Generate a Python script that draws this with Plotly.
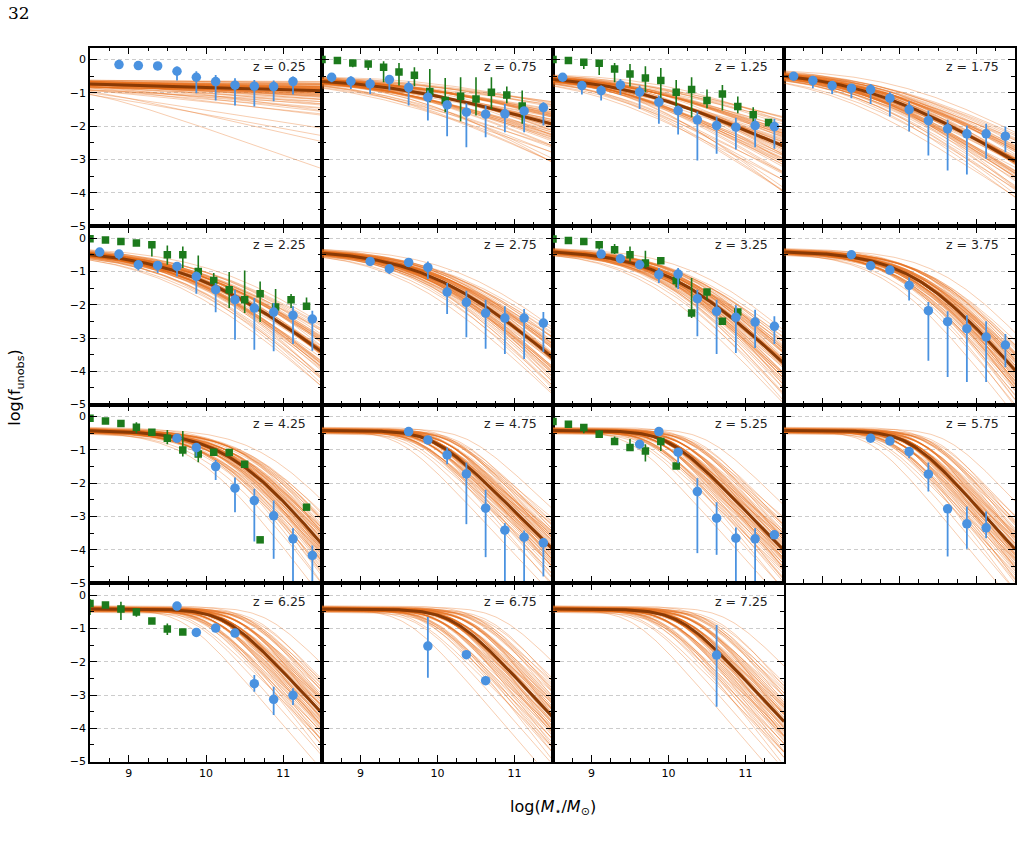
import numpy as np
import plotly.graph_objects as go
from statistics import NormalDist

W, H = 1022, 843

Z_LABELS = ["0.25", "0.75", "1.25", "1.75", "2.25", "2.75", "3.25", "3.75",
            "4.25", "4.75", "5.25", "5.75", "6.25", "6.75", "7.25"]

# median model: log f = P - (B/K) log10(1 + 10^(K (M - MC)))
P = [-0.693, -0.554, -0.49, -0.335, -0.326, -0.34, -0.35, -0.39,
     -0.41, -0.42, -0.42, -0.42, -0.42, -0.42, -0.42]
B = [0.07, 0.65, 1.0, 1.4, 1.9, 2.1, 2.3, 2.8, 2.9, 2.3, 2.4, 2.6, 2.5, 2.5, 2.5]
K = [1.0, 0.65, 0.75, 0.65, 0.6, 0.7, 0.8, 0.95, 1.0, 2.0, 2.0, 2.0, 2.0, 2.0, 2.0]
MC = [8.0, 9.385, 9.4, 9.6, 9.95, 10.0, 10.05, 10.25, 10.35, 9.95, 10.0, 10.13, 10.25, 10.2, 10.15]
# posterior spread of the sampled curves
SIG_P = [0.06, 0.05, 0.05, 0.05, 0.05, 0.04, 0.04, 0.04, 0.04, 0.04, 0.04, 0.04, 0.04, 0.04, 0.04]
SIG_B = [1.0, 0.3, 0.25, 0.15, 0.13, 0.12, 0.12, 0.1, 0.1, 0.1, 0.1, 0.1, 0.1, 0.1, 0.1]
SIG_M = [0.3, 0.25, 0.2, 0.2, 0.15, 0.15, 0.15, 0.15, 0.18, 0.18, 0.2, 0.2, 0.22, 0.25, 0.25]

# blue circles: mass, value, upper end of error bar, lower end
BLUE_M = [
    [8.875, 9.125, 9.375, 9.625, 9.875, 10.125, 10.375, 10.625, 10.875, 11.125],
    [8.625, 8.875, 9.125, 9.375, 9.625, 9.875, 10.125, 10.375, 10.625, 10.875, 11.125, 11.375],
    [8.625, 8.875, 9.125, 9.375, 9.625, 9.875, 10.125, 10.375, 10.625, 10.875, 11.125, 11.375],
    [8.625, 8.875, 9.125, 9.375, 9.625, 9.875, 10.125, 10.375, 10.625, 10.875, 11.125, 11.375],
    [8.625, 8.875, 9.125, 9.375, 9.625, 9.875, 10.125, 10.375, 10.625, 10.875, 11.125, 11.375],
    [9.125, 9.375, 9.625, 9.875, 10.125, 10.375, 10.625, 10.875, 11.125, 11.375],
    [9.125, 9.375, 9.625, 9.875, 10.125, 10.375, 10.625, 10.875, 11.125, 11.375],
    [9.375, 9.625, 9.875, 10.125, 10.375, 10.625, 10.875, 11.125, 11.375],
    [9.625, 9.875, 10.125, 10.375, 10.625, 10.875, 11.125, 11.375],
    [9.625, 9.875, 10.125, 10.375, 10.625, 10.875, 11.125, 11.375],
    [9.625, 9.875, 10.125, 10.375, 10.625, 10.875, 11.125, 11.375],
    [9.625, 9.875, 10.125, 10.375, 10.625, 10.875, 11.125],
    [9.625, 9.875, 10.125, 10.375, 10.625, 10.875, 11.125],
    [9.875, 10.375, 10.625],
    [10.625],
]
BLUE_V = [
    [-0.15, -0.18, -0.19, -0.35, -0.53, -0.66, -0.77, -0.80, -0.81, -0.66],
    [-0.53, -0.65, -0.73, -0.60, -0.84, -1.13, -1.36, -1.58, -1.64, -1.63, -1.54, -1.44],
    [-0.53, -0.78, -0.93, -0.76, -0.98, -1.28, -1.53, -1.81, -1.98, -2.03, -1.98, -2.01],
    [-0.50, -0.63, -0.78, -0.86, -0.90, -1.16, -1.50, -1.83, -2.08, -2.23, -2.23, -2.30],
    [-0.42, -0.48, -0.80, -0.82, -0.85, -1.15, -1.55, -1.85, -2.10, -2.22, -2.32, -2.43],
    [-0.70, -0.92, -0.73, -0.88, -1.62, -1.93, -2.25, -2.40, -2.40, -2.55],
    [-0.48, -0.62, -0.80, -1.10, -1.08, -1.82, -2.20, -2.38, -2.52, -2.65],
    [-0.50, -0.83, -0.96, -1.42, -2.18, -2.51, -2.72, -2.97, -3.21],
    [-0.65, -0.93, -1.50, -2.15, -2.52, -2.98, -3.67, -4.17],
    [-0.45, -0.70, -1.15, -1.72, -2.75, -3.41, -3.62, -3.79],
    [-0.83, -0.45, -1.07, -2.25, -3.05, -3.65, -3.67, -3.55],
    [-0.65, -0.73, -1.05, -1.73, -2.77, -3.22, -3.34],
    [-0.33, -1.12, -0.99, -1.14, -2.66, -3.13, -3.01],
    [-1.53, -1.79, -2.57],
    [-1.80],
]
BLUE_HI = [
    [-0.15, -0.18, -0.19, -0.21, -0.35, -0.46, -0.56, -0.61, -0.63, -0.51],
    [-0.43, -0.50, -0.55, -0.48, -0.65, -0.93, -1.23, -1.31, -1.38, -1.33, -1.43, -1.28],
    [-0.43, -0.66, -0.78, -0.58, -0.78, -1.08, -1.38, -1.56, -1.71, -1.75, -1.78, -1.78],
    [-0.45, -0.50, -0.68, -0.73, -0.73, -0.98, -1.25, -1.53, -1.81, -1.98, -1.93, -2.01],
    [-0.38, -0.38, -0.70, -0.70, -0.73, -1.00, -1.35, -1.55, -1.80, -1.95, -2.05, -2.18],
    [-0.62, -0.80, -0.68, -0.70, -1.35, -1.58, -1.85, -2.05, -2.13, -2.22],
    [-0.40, -0.55, -0.72, -0.90, -0.90, -1.55, -1.85, -2.02, -2.15, -2.35],
    [-0.45, -0.78, -0.90, -1.18, -1.92, -2.20, -2.32, -2.50, -2.88],
    [-0.60, -0.83, -1.30, -1.83, -2.17, -2.52, -3.35, -3.87],
    [-0.40, -0.65, -0.93, -1.38, -2.20, -3.20, -3.42, -3.70],
    [-0.78, -0.40, -0.95, -1.85, -2.57, -3.33, -3.35, -3.43],
    [-0.60, -0.68, -0.95, -1.38, -2.67, -2.70, -2.85],
    [-0.25, -1.05, -0.92, -1.08, -2.40, -2.75, -2.80],
    [-0.66, -1.72, -2.45],
    [-0.90],
]
BLUE_LO = [
    [-0.15, -0.18, -0.19, -0.63, -1.01, -1.23, -1.38, -1.41, -1.25, -1.05],
    [-0.68, -0.88, -1.03, -0.93, -1.38, -1.83, -2.30, -2.63, -2.33, -2.18, -2.18, -1.98],
    [-0.65, -1.05, -1.23, -1.06, -1.48, -1.93, -2.25, -3.03, -2.83, -2.70, -2.63, -2.68],
    [-0.55, -0.86, -1.03, -1.16, -1.33, -1.71, -2.16, -2.88, -3.33, -3.45, -2.98, -2.78],
    [-0.48, -0.65, -0.97, -1.05, -1.15, -1.67, -2.23, -3.05, -3.35, -3.40, -3.18, -3.38],
    [-0.78, -1.08, -0.78, -1.23, -2.28, -2.98, -3.32, -3.48, -3.63, -3.42],
    [-0.55, -0.70, -0.88, -1.35, -1.53, -2.95, -3.48, -3.45, -3.30, -3.18],
    [-0.55, -0.88, -1.02, -1.87, -3.68, -4.17, -4.32, -4.32, -3.88],
    [-0.70, -1.20, -1.90, -2.87, -3.75, -4.27, -5.10, -5.10],
    [-0.50, -0.75, -1.43, -3.23, -4.22, -5.10, -5.10, -4.80],
    [-0.88, -0.50, -1.40, -4.10, -4.15, -5.10, -5.20, -3.67],
    [-0.70, -0.78, -1.25, -2.25, -4.20, -3.97, -3.65],
    [-0.40, -1.20, -1.07, -1.22, -2.90, -3.60, -3.30],
    [-2.48, -1.86, -2.70],
    [-3.35],
]

# green squares (panel index -> data)
GREEN_PANEL = [1, 2, 4, 6, 8, 10, 12]
GREEN_M = [
    [8.5, 8.7, 8.9, 9.1, 9.3, 9.5, 9.7, 9.9, 10.1, 10.3, 10.5, 10.7, 10.9, 11.1],
    [8.5, 8.7, 8.9, 9.1, 9.3, 9.5, 9.7, 9.9, 10.1, 10.3, 10.5, 10.7, 10.9, 11.1, 11.3],
    [8.5, 8.7, 8.9, 9.1, 9.3, 9.5, 9.7, 9.9, 10.1, 10.3, 10.5, 10.7, 10.9, 11.1, 11.3],
    [8.5, 8.7, 8.9, 9.1, 9.3, 9.5, 9.7, 9.9, 10.1, 10.3, 10.5, 10.7, 10.9],
    [8.5, 8.7, 8.9, 9.1, 9.3, 9.5, 9.7, 9.9, 10.1, 10.3, 10.5, 10.7, 11.3],
    [8.5, 8.7, 8.9, 9.1, 9.3, 9.5, 9.7, 9.9, 10.1],
    [8.5, 8.7, 8.9, 9.1, 9.3, 9.5, 9.7],
]
GREEN_V = [
    [0.0, -0.03, -0.10, -0.13, -0.23, -0.37, -0.47, -0.96, -1.23, -1.10, -1.18, -0.98, -1.06, -1.39],
    [0.0, -0.03, -0.08, -0.11, -0.28, -0.43, -0.55, -0.63, -0.98, -0.90, -1.23, -1.03, -1.41, -1.66, -1.89],
    [-0.02, -0.06, -0.10, -0.15, -0.20, -0.50, -0.50, -1.00, -1.27, -1.55, -1.85, -1.67, -2.07, -1.85, -2.05],
    [-0.03, -0.07, -0.10, -0.20, -0.35, -0.50, -0.75, -0.68, -1.27, -2.25, -1.62, -2.50, -2.22],
    [-0.05, -0.13, -0.21, -0.32, -0.47, -0.65, -1.00, -1.12, -1.07, -1.08, -1.43, -3.70, -2.72],
    [-0.15, -0.23, -0.33, -0.53, -0.75, -0.93, -1.03, -0.75, -1.48],
    [-0.25, -0.30, -0.42, -0.51, -0.78, -1.02, -1.11],
]
GREEN_HI = [
    [0.0, -0.03, -0.03, -0.08, -0.05, -0.10, -0.23, -0.28, -0.55, -0.53, -0.53, -0.53, -0.81, -0.93],
    [0.0, -0.03, 0.0, -0.03, -0.10, -0.13, -0.20, -0.25, -0.61, -0.53, -0.90, -0.76, -1.11, -1.43, -1.81],
    [-0.02, -0.06, -0.03, -0.08, -0.12, -0.22, -0.25, -0.52, -1.05, -1.02, -0.97, -1.30, -1.53, -1.68, -1.78],
    [-0.03, -0.07, -0.03, -0.12, -0.18, -0.25, -0.38, -0.60, -1.15, -1.20, -1.55, -2.45, -2.15],
    [-0.05, -0.13, -0.21, -0.17, -0.40, -0.40, -0.43, -0.93, -1.07, -1.08, -1.43, -3.70, -2.72],
    [-0.15, -0.17, -0.23, -0.40, -0.60, -0.67, -0.83, -0.63, -1.48],
    [-0.12, -0.30, -0.20, -0.40, -0.78, -0.85, -1.11],
]
GREEN_LO = [
    [0.0, -0.03, -0.23, -0.31, -0.68, -0.78, -0.80, -1.28, -1.58, -1.85, -1.68, -1.48, -1.31, -1.93],
    [0.0, -0.03, -0.28, -0.46, -0.68, -0.81, -0.98, -1.28, -1.58, -1.73, -1.46, -1.53, -1.61, -2.03, -2.01],
    [-0.02, -0.06, -0.20, -0.22, -0.55, -0.80, -0.90, -1.25, -1.45, -2.10, -2.25, -2.52, -2.25, -2.10, -2.10],
    [-0.03, -0.07, -0.20, -0.35, -0.48, -0.70, -0.90, -0.75, -1.48, -2.40, -1.85, -2.55, -2.28],
    [-0.05, -0.13, -0.21, -0.50, -0.57, -0.83, -1.20, -1.37, -1.07, -1.08, -1.43, -3.70, -2.72],
    [-0.15, -0.30, -0.50, -0.63, -0.85, -0.97, -1.35, -1.03, -1.48],
    [-0.60, -0.30, -0.75, -0.65, -0.78, -1.20, -1.11],
]

X_RANGE = [8.5, 11.5]
Y_RANGE = [-5.0, 0.36]
COL_X = [90, 322, 553, 784, 1015]
ROW_Y = [48, 228, 408, 588, 768]

SAMPLE_COLOR = "rgba(232,108,22,0.38)"
MEDIAN_COLOR = "#8a3a05"
BLUE = "#4a92e0"
GREEN = "#1c7a1c"
FONT = "DejaVu Sans"

mgrid = np.linspace(X_RANGE[0], X_RANGE[1], 121)


def model(m, p, b, k, mc):
    return p - (b / k) * np.log10(1.0 + 10.0 ** (k * (m - mc)))


N_SAMP = 70
nd = NormalDist()
qv = [nd.inv_cdf((j + 0.5) / N_SAMP) for j in range(N_SAMP)]

fig = go.Figure()
layout = {}
annotations = []

for i, zl in enumerate(Z_LABELS):
    r, c = divmod(i, 4)
    n = i + 1
    xa = "x" if n == 1 else f"x{n}"
    ya = "y" if n == 1 else f"y{n}"
    xk = "xaxis" if n == 1 else f"xaxis{n}"
    yk = "yaxis" if n == 1 else f"yaxis{n}"

    for s in range(N_SAMP):
        qp = qv[s]
        qb = qv[(9 * s + 4) % N_SAMP]
        qm = qv[(13 * s + 7) % N_SAMP]
        yv = model(mgrid, P[i] + SIG_P[i] * qp, B[i] * np.exp(SIG_B[i] * qb), K[i], MC[i] + SIG_M[i] * qm)
        fig.add_trace(go.Scatter(x=mgrid, y=yv, mode="lines", xaxis=xa, yaxis=ya,
                                 line=dict(color=SAMPLE_COLOR, width=0.9),
                                 hoverinfo="skip", showlegend=False))
    fig.add_trace(go.Scatter(x=mgrid, y=model(mgrid, P[i], B[i], K[i], MC[i]), mode="lines",
                             xaxis=xa, yaxis=ya, line=dict(color=MEDIAN_COLOR, width=3),
                             hoverinfo="skip", showlegend=False))

    if i in GREEN_PANEL:
        g = GREEN_PANEL.index(i)
        gv = np.array(GREEN_V[g])
        fig.add_trace(go.Scatter(
            x=GREEN_M[g], y=gv, mode="markers", xaxis=xa, yaxis=ya,
            marker=dict(symbol="square", size=7.5, color=GREEN),
            error_y=dict(type="data", symmetric=False,
                         array=np.array(GREEN_HI[g]) - gv, arrayminus=gv - np.array(GREEN_LO[g]),
                         color=GREEN, thickness=1.6, width=0),
            showlegend=False))

    bv = np.array(BLUE_V[i])
    fig.add_trace(go.Scatter(
        x=BLUE_M[i], y=bv, mode="markers", xaxis=xa, yaxis=ya,
        marker=dict(symbol="circle", size=9.5, color=BLUE),
        error_y=dict(type="data", symmetric=False,
                     array=np.array(BLUE_HI[i]) - bv, arrayminus=bv - np.array(BLUE_LO[i]),
                     color=BLUE, thickness=1.8, width=0),
        showlegend=False))

    layout[xk] = dict(
        domain=[COL_X[c] / W, COL_X[c + 1] / W], anchor=ya, range=X_RANGE,
        showline=True, linecolor="black", linewidth=1.6, mirror="allticks",
        ticks="inside", ticklen=7, tickwidth=1.4, tickcolor="black",
        tickmode="linear", tick0=9, dtick=1,
        minor=dict(ticks="inside", ticklen=4, tickwidth=1.1, tickcolor="black",
                   dtick=0.25, tick0=8.5, showgrid=False),
        showgrid=False, zeroline=False, showticklabels=(r == 3),
        tickfont=dict(family=FONT, size=11, color="black"),
    )
    layout[yk] = dict(
        domain=[1 - ROW_Y[r + 1] / H, 1 - ROW_Y[r] / H], anchor=xa, range=Y_RANGE,
        showline=True, linecolor="black", linewidth=1.6, mirror="allticks",
        ticks="inside", ticklen=7, tickwidth=1.4, tickcolor="black",
        tickmode="linear", tick0=0, dtick=1,
        minor=dict(ticks="inside", ticklen=4, tickwidth=1.1, tickcolor="black",
                   dtick=0.5, tick0=0, showgrid=False),
        showgrid=True, gridcolor="#cccccc", griddash="4px,3px", gridwidth=0.8,
        zeroline=False, showticklabels=(c == 0),
        tickfont=dict(family=FONT, size=11, color="black"),
    )
    annotations.append(dict(
        text=f"z = {zl}", xref=f"{xa} domain", yref=f"{ya} domain",
        x=0.94, y=0.895, xanchor="right", yanchor="middle", showarrow=False,
        font=dict(family=FONT, size=12.5, color="#222")))

annotations.append(dict(text="log(<i>M</i><sub>⋆</sub>/<i>M</i><sub>⊙</sub>)",
                        xref="paper", yref="paper", x=553 / W, y=1 - 814 / H,
                        xanchor="center", yanchor="middle", showarrow=False,
                        font=dict(family=FONT, size=16, color="black")))
annotations.append(dict(text="log(f<sub>unobs</sub>)", textangle=-90,
                        xref="paper", yref="paper", x=16 / W, y=1 - 391 / H,
                        xanchor="center", yanchor="middle", showarrow=False,
                        font=dict(family=FONT, size=16, color="black")))
annotations.append(dict(text="32", xref="paper", yref="paper", x=6 / W, y=1 - 13 / H,
                        xanchor="left", yanchor="middle", showarrow=False,
                        font=dict(family="DejaVu Serif", size=17, color="black")))

fig.update_layout(
    width=W, height=H, margin=dict(l=0, r=0, t=0, b=0),
    paper_bgcolor="white", plot_bgcolor="white",
    showlegend=False, annotations=annotations, **layout)

fig.write_html("out.html")
